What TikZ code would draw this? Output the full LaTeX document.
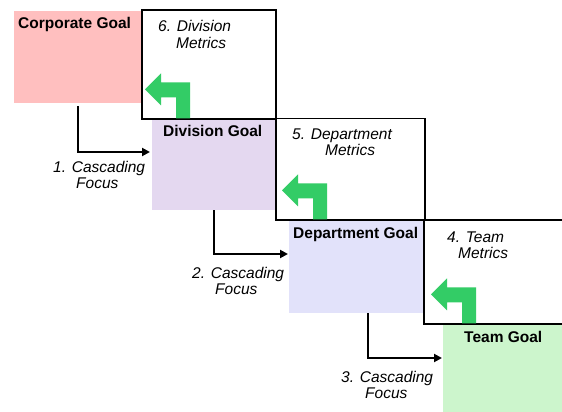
\documentclass[tikz,border=0pt]{standalone}
\usepackage{fontspec}
\setmainfont{Liberation Sans}
\usetikzlibrary{arrows.meta}
\definecolor{corppink}{RGB}{255,191,191}
\definecolor{divlilac}{RGB}{228,216,240}
\definecolor{deplav}{RGB}{226,226,250}
\definecolor{teammint}{RGB}{204,245,204}
\definecolor{turngreen}{RGB}{51,204,102}
\tikzset{turnback/.pic={
  \fill[turngreen] (0,0) -- (0,-21) -- (-15,-21) -- (-15,-13) -- (-31,-29)
    -- (-15,-45) -- (-15,-36) -- (14,-36) -- (14,0) -- cycle;}}

\begin{document}
\begin{tikzpicture}[>={Triangle[length=8pt,width=8pt]},x=1pt,y=-1pt,
    goalbox/.style={anchor=north west,inner sep=0,outer sep=0,minimum height=92pt},
    metricbox/.style={draw=black,line width=1.1pt,fill=white,anchor=north west,inner sep=0,outer sep=0},
    goaltext/.style={anchor=base west,inner sep=0,font=\fontsize{15.5}{17}\selectfont\bfseries},
    metrictext/.style={anchor=base west,inner sep=0,align=left,font=\fontsize{15.5}{16.5}\selectfont\itshape},
    cascade/.style={->,line width=2pt}]
  \useasboundingbox (0,0) rectangle (562,412);
  \clip (0,0) rectangle (562,412);
  % goals
  \node[goalbox,fill=corppink,minimum width=127pt] (corp) at (14,11) {};
  \node[goalbox,fill=divlilac,minimum width=124pt,minimum height=91pt] (div) at (152,119) {};
  \node[goalbox,fill=deplav,minimum width=136pt,minimum height=93pt] (dep) at (289,220) {};
  \node[goalbox,fill=teammint,minimum width=140pt] (team) at (443,324) {};
  % metrics
  \node[metricbox,minimum width=134pt,minimum height=109pt] (divm) at (142,10) {};
  \node[metricbox,minimum width=149pt,minimum height=101.5pt] (depm) at (276,118.5) {};
  \node[metricbox,minimum width=160pt,minimum height=104pt] (teamm) at (424,220) {};
  \pic at (176,118.4) {turnback};
  \pic at (313,219.4) {turnback};
  \pic at (462,323.4) {turnback};
  % texts (multi-line ones sit on the baseline of their last line)
  \node[goaltext] (corpT) at (18,29) {Corporate Goal};
  \node[goaltext] (divT) at (163,136) {Division Goal};
  \node[goaltext] (depT) at (293,238) {Department Goal};
  \node[goaltext] (teamT) at (464,342) {Team Goal};
  \node[metrictext] (divmT) at (158,48.5) {6. Division\\\hspace*{18pt}Metrics};
  \node[metrictext] (depmT) at (292,155.5) {5. Department\\\hspace*{33pt}Metrics};
  \node[metrictext] (teammT) at (447,258.5) {4. Team\\\hspace*{11pt}Metrics};
  \node[metrictext] (focusA) at (53,188.5) {1. Cascading\\\hspace*{23pt}Focus};
  \node[metrictext] (focusB) at (192,294.5) {2. Cascading\\\hspace*{23pt}Focus};
  \node[metrictext] (focusC) at (341,398.5) {3. Cascading\\\hspace*{24pt}Focus};
  % cascading arrows
  \draw[cascade] ([yshift=-3pt]corp.south) |- ([xshift=-2pt,yshift=12.5pt]div.west);
  \draw[cascade] (div.south) |- ([xshift=-1pt,yshift=12.5pt]dep.west);
  \draw[cascade] ([xshift=11pt]dep.south) |- ([xshift=-1pt,yshift=12pt]team.west);
\end{tikzpicture}
\end{document}
